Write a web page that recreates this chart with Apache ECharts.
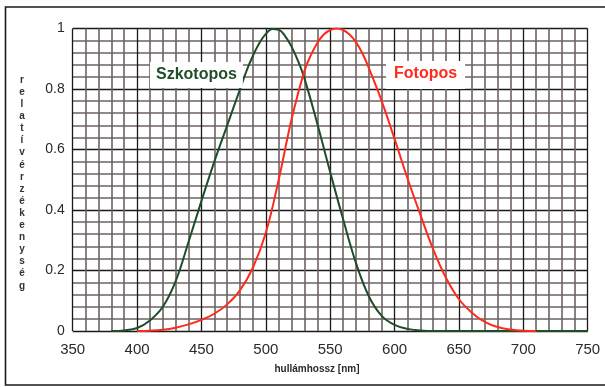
<!DOCTYPE html>
<html>
<head>
<meta charset="utf-8">
<script src="https://cdn.jsdelivr.net/npm/echarts@6/dist/echarts.min.js"></script>
<style>html,body{margin:0;padding:0;background:#fff;}#c{width:605px;height:387px;}</style>
</head>
<body>
<div id="c"></div>
<script>
// Wavelength ticks (nm)
const xTicks = [350, 400, 450, 500, 550, 600, 650, 700, 750];
const yTicks = [0, 0.2, 0.4, 0.6, 0.8, 1];

// Scotopic (Szkotopos) curve
const scotWl  = [380, 390, 400, 410, 420, 430, 440, 450, 460, 470, 480, 485, 490, 495, 500, 505, 510, 515, 520, 525, 530, 540, 550, 560, 570, 580, 590, 600, 610, 620, 630, 640, 650, 700, 750];
const scotVal = [0, 0.002, 0.01, 0.035, 0.08, 0.165, 0.295, 0.43, 0.56, 0.68, 0.8, 0.86, 0.91, 0.952, 0.982, 0.998, 0.996, 0.975, 0.94, 0.893, 0.835, 0.685, 0.525, 0.37, 0.225, 0.115, 0.05, 0.02, 0.007, 0.002, 0, 0, 0, 0, 0];

// Photopic (Fotopos) curve
const photWl  = [400, 410, 420, 430, 440, 450, 460, 470, 480, 490, 500, 510, 520, 530, 535, 540, 545, 550, 555, 560, 565, 570, 575, 580, 590, 600, 610, 620, 630, 640, 650, 660, 670, 680, 690, 700, 710];
const photVal = [0, 0.001, 0.004, 0.011, 0.022, 0.037, 0.057, 0.088, 0.135, 0.21, 0.325, 0.5, 0.7, 0.86, 0.912, 0.952, 0.98, 0.995, 1.0, 0.995, 0.98, 0.955, 0.918, 0.87, 0.76, 0.635, 0.505, 0.385, 0.27, 0.175, 0.105, 0.06, 0.03, 0.013, 0.005, 0.001, 0];

const seriesNames = ['Szkotopos', 'Fotopos'];
const xAxisTitle = 'hullámhossz [nm]';
const yAxisTitle = 'relatív érzékenység';

const pair = (xs, ys) => xs.map((x, i) => [x, ys[i]]);

const chart = echarts.init(document.getElementById('c'), null, {renderer: 'canvas'});
const green = '#1f4d28';
const red = '#ff2a1c';
chart.setOption({
  animation: false,
  backgroundColor: '#fff',
  grid: {left: 72.7, right: 17.3, top: 28.5, bottom: 56, show: false},
  xAxis: {
    type: 'value', min: xTicks[0], max: xTicks[xTicks.length - 1], interval: 50,
    axisLine: {show: false}, axisTick: {show: false},
    axisLabel: {fontFamily: 'Liberation Sans', fontSize: 15, color: '#2a2a2a', margin: 11},
    splitLine: {show: true, lineStyle: {color: '#1a1a1a', width: 1.3}},
    minorTick: {show: false, splitNumber: 5},
    minorSplitLine: {show: true, lineStyle: {color: '#6d6262', width: 1.6}}
  },
  yAxis: {
    type: 'value', min: yTicks[0], max: yTicks[yTicks.length - 1], interval: 0.2,
    axisLine: {show: false}, axisTick: {show: false},
    axisLabel: {fontFamily: 'Liberation Sans', fontSize: 14, color: '#2a2a2a', margin: 8},
    splitLine: {show: true, lineStyle: {color: '#1a1a1a', width: 1.3}},
    minorTick: {show: false, splitNumber: 5},
    minorSplitLine: {show: true, lineStyle: {color: '#6d6262', width: 1.6}}
  },
  series: [
    {name: seriesNames[0], type: 'line', data: pair(scotWl, scotVal), smooth: 0.4, showSymbol: false,
     lineStyle: {color: green, width: 2}, z: 3},
    {name: seriesNames[1], type: 'line', data: pair(photWl, photVal), smooth: 0.4, showSymbol: false,
     lineStyle: {color: red, width: 2}, z: 4}
  ],
  graphic: [
    {type: 'rect', shape: {x: 5.5, y: 7, width: 620, height: 378}, style: {fill: 'none', stroke: '#1a1a1a', lineWidth: 1.6}, z: 1, silent: true},
    {type: 'text', left: 150, top: 62, z: 10,
     style: {text: seriesNames[0], fill: green, font: 'bold 16px "Liberation Sans"', backgroundColor: '#fff', padding: [5, 6, 5, 6]}},
    {type: 'text', left: 386, top: 61, z: 10,
     style: {text: seriesNames[1], fill: red, font: 'bold 16px "Liberation Sans"', backgroundColor: '#fff', padding: [5, 8, 7, 8]}},
    {type: 'text', z: 10, style: {text: xAxisTitle, x: 317, y: 369, textAlign: 'center', textVerticalAlign: 'middle', fill: '#2a2a2a', font: 'bold 10px "Liberation Sans"'}},
    {type: 'text', z: 10, style: {text: yAxisTitle.replace(/\s/g, '').split('').join('\n'), x: 22, y: 74, textAlign: 'center', fill: '#333', font: 'bold 10px "Liberation Sans"', lineHeight: 12.1}}
  ]
});
</script>
</body>
</html>
